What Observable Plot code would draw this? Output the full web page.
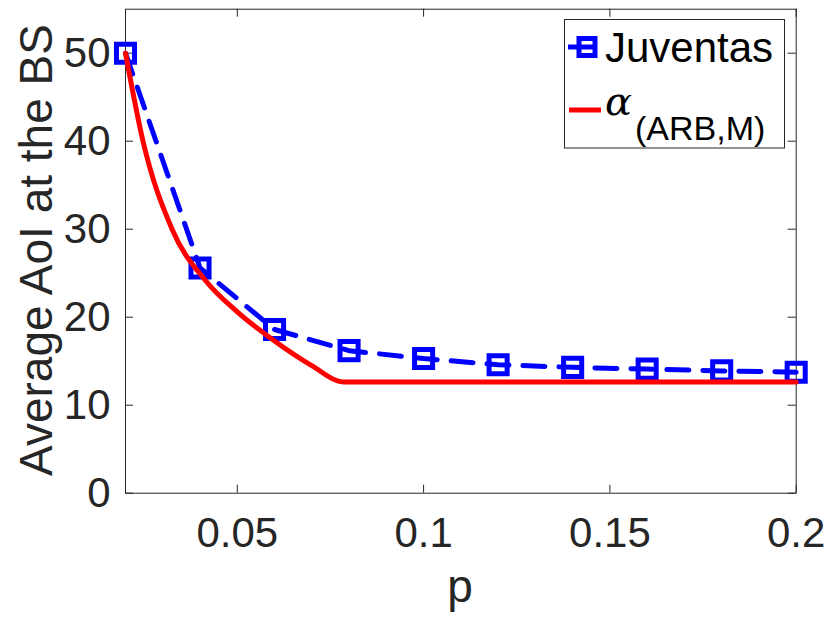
<!DOCTYPE html>
<html>
<head>
<meta charset="utf-8">
<script src="https://cdn.jsdelivr.net/npm/d3@7"></script>
<script src="https://cdn.jsdelivr.net/npm/@observablehq/plot@0.6"></script>
<style>
  html, body { margin: 0; padding: 0; background: white; }
</style>
</head>
<body>
<div id="chart"></div>
<script>
// ---- data ----
const pValues = [0.02, 0.04, 0.06, 0.08, 0.10, 0.12, 0.14, 0.16, 0.18, 0.20];
const juventas = [50, 25.6, 18.6, 16.2, 15.3, 14.6, 14.3, 14.1, 13.9, 13.75];

const alphaP = [0.02, 0.0247, 0.0325, 0.0414, 0.05, 0.06, 0.07, 0.0785, 0.20];
const alphaV = [50, 40, 30, 24.2, 20.6, 17.3, 14.5, 12.65, 12.65];

const xTicks = [0.05, 0.1, 0.15, 0.2];
const xTickLabels = ["0.05", "0.1", "0.15", "0.2"];
const yTicks = [0, 10, 20, 30, 40, 50];

const seriesNames = ["Juventas", "α", "(ARB,M)"];
const xLabel = "p";
const yLabel = "Average AoI at the BS";

const juvData = pValues.map((p, i) => ({p, v: juventas[i]}));
const alphaData = alphaP.map((p, i) => ({p, v: alphaV[i]}));

const W = 830, H = 619;
const mL = 125, mR = 34.3, mT = 8.7, mB = 126.3;
const innerH = H - mT - mB;
const innerW = W - mL - mR;
const axisColor = "#262626";
const font = "'Liberation Sans', Arial, Helvetica, sans-serif";

const chart = Plot.plot({
  width: W,
  height: H,
  marginLeft: mL,
  marginRight: mR,
  marginTop: mT,
  marginBottom: mB,
  style: {fontFamily: font, background: "white", color: axisColor},
  x: {domain: [0.02, 0.2]},
  y: {domain: [0, 55]},
  marks: [
    Plot.axisX({ticks: xTicks, tickSize: 0, tickPadding: 24, fontSize: 42, label: null,
      tickFormat: (d) => xTickLabels[xTicks.indexOf(d)] ?? String(d), fill: axisColor}),
    Plot.axisY({ticks: yTicks, tickSize: 0, tickPadding: 15, fontSize: 42, label: null, fill: axisColor}),
    // inward ticks, bottom & top
    Plot.tickX(xTicks, {x: d => d, insetTop: innerH - 8, stroke: axisColor, strokeWidth: 1}),
    Plot.tickX(xTicks, {x: d => d, insetBottom: innerH - 8, stroke: axisColor, strokeWidth: 1}),
    // inward ticks, left & right
    Plot.tickY(yTicks, {y: d => d, insetRight: innerW - 8, stroke: axisColor, strokeWidth: 1}),
    Plot.tickY(yTicks, {y: d => d, insetLeft: innerW - 8, stroke: axisColor, strokeWidth: 1}),
    Plot.frame({stroke: axisColor, strokeWidth: 1}),
    // Juventas
    Plot.line(juvData, {x: "p", y: "v", stroke: "#0000ff", strokeWidth: 5, strokeDasharray: "22,14"}),
    Plot.dot(juvData, {x: "p", y: "v", symbol: "square", r: 10.2, stroke: "#0000ff", strokeWidth: 5, fill: "none"}),
    // alpha
    Plot.line(alphaData, {x: "p", y: "v", stroke: "#ff0000", strokeWidth: 5, curve: "monotone-x"})
  ]
});

document.getElementById("chart").appendChild(chart);

const svg = d3.select(chart);

// axis labels
svg.append("text")
  .attr("x", 460).attr("y", 602)
  .attr("text-anchor", "middle")
  .attr("font-size", 46).attr("font-family", font).attr("fill", axisColor)
  .text(xLabel);

svg.append("text")
  .attr("transform", "translate(52,250) rotate(-90)")
  .attr("text-anchor", "middle")
  .attr("font-size", 46).attr("font-family", font).attr("fill", axisColor)
  .text(yLabel);

// legend
const lg = svg.append("g").attr("text-anchor", "start");
lg.append("rect")
  .attr("x", 564.5).attr("y", 19.5).attr("width", 220).attr("height", 128.5)
  .attr("fill", "white").attr("stroke", axisColor).attr("stroke-width", 1);
lg.append("line")
  .attr("x1", 568).attr("x2", 597).attr("y1", 47).attr("y2", 47)
  .attr("stroke", "#0000ff").attr("stroke-width", 5);
lg.append("rect")
  .attr("x", 579).attr("y", 38.5).attr("width", 16).attr("height", 17)
  .attr("fill", "none").attr("stroke", "#0000ff").attr("stroke-width", 5);
lg.append("text")
  .attr("x", 605).attr("y", 62)
  .attr("text-anchor", "start")
  .attr("font-size", 42).attr("font-family", font).attr("fill", "#000")
  .text(seriesNames[0]);
lg.append("line")
  .attr("x1", 569).attr("x2", 601).attr("y1", 110).attr("y2", 110)
  .attr("stroke", "#ff0000").attr("stroke-width", 5);
lg.append("text")
  .attr("x", 605).attr("y", 115)
  .attr("text-anchor", "start")
  .attr("font-size", 40).attr("font-style", "italic")
  .attr("font-family", "'DejaVu Serif', 'Liberation Serif', serif").attr("fill", "#000")
  .text(seriesNames[1]);
lg.append("text")
  .attr("x", 635).attr("y", 140)
  .attr("text-anchor", "start")
  .attr("font-size", 34).attr("font-family", font).attr("fill", "#000")
  .text(seriesNames[2]);
</script>
</body>
</html>
